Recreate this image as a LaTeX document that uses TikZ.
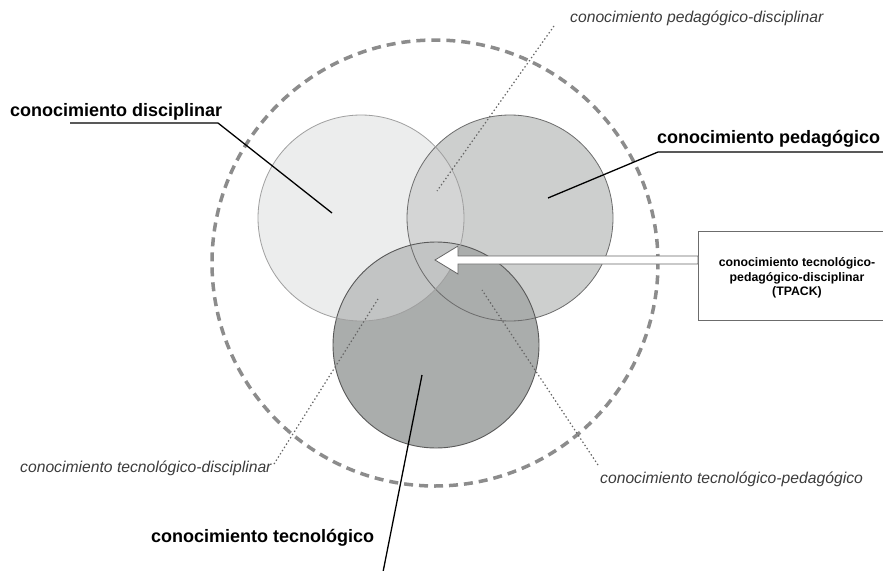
\documentclass[tikz,border=0pt]{standalone}
\usepackage{fontspec}
\setmainfont{Liberation Sans}
\usetikzlibrary{calc}

\definecolor{discfill}{RGB}{219,220,221}
\definecolor{pedfill}{RGB}{205,207,206}
\definecolor{tecfill}{RGB}{170,173,172}
\definecolor{ringgray}{RGB}{140,140,140}
\definecolor{italgray}{RGB}{60,60,60}

\begin{document}
\begin{tikzpicture}[x=1pt,y=-1pt,
  knowledge/.style={circle,minimum size=206pt,inner sep=0pt},
  biglabel/.style={font=\fontsize{18}{20}\selectfont\bfseries,inner sep=0pt},
  smalllabel/.style={font=\fontsize{15.7}{18}\selectfont\itshape,text=italgray,inner sep=0pt},
  leader/.style={line width=1.3pt},
  pointer/.style={black!60,line width=1.2pt,dash pattern=on 1.4pt off 2.4pt}]
\clip (0,0) rectangle (883,570);
\fill[white] (0,0) rectangle (883,570);

\node[circle,minimum size=446pt,draw=ringgray,line width=3.5pt,dash pattern=on 9pt off 6pt] (ring) at (435,263) {};

\node[knowledge,fill=pedfill] (ped) at (510,218) {};
\node[knowledge,fill=tecfill] (tec) at (436,345) {};
\node[knowledge,fill=discfill,fill opacity=0.5] (disc) at (361,218) {};
\draw[gray!85!black,line width=0.8pt] (ped) circle (103pt);
\draw[black!65,line width=0.9pt] (tec) circle (103pt);
\draw[gray!75,line width=0.8pt] (disc) circle (103pt);

\node[biglabel,anchor=base west] (discLbl) at (10,116) {conocimiento disciplinar};
\node[biglabel,anchor=base west] (pedLbl) at (657,143) {conocimiento pedagógico};
\node[biglabel,anchor=base west] (tecLbl) at (151,542) {conocimiento tecnológico};

\node[smalllabel,anchor=base west] (pdLbl) at (570,23) {conocimiento pedagógico-disciplinar};
\node[smalllabel,anchor=base west] (tdLbl) at (20,472) {conocimiento tecnológico-disciplinar};
\node[smalllabel,anchor=base west] (tpLbl) at (600,483) {conocimiento tecnológico-pedagógico};

\coordinate (discStart) at (70,123);
\coordinate (discBend) at (218,123);
\coordinate (discEnd) at (332,213);
\coordinate (pedStart) at (883,152);
\coordinate (pedBend) at (658,152);
\coordinate (pedEnd) at (548,198);
\coordinate (tecStart) at (383,572);
\coordinate (tecEnd) at (422,375);
\draw[leader] (discStart) -- (discBend) -- (discEnd);
\draw[leader] (pedStart) -- (pedBend) -- (pedEnd);
\draw[leader] (tecStart) -- (tecEnd);

\coordinate (pdStart) at (554,26);
\coordinate (pdEnd) at (437,191);
\coordinate (tdStart) at (274,464);
\coordinate (tdEnd) at (378,299);
\coordinate (tpStart) at (598,465);
\coordinate (tpEnd) at (482,290);
\draw[pointer] (pdStart) -- (pdEnd);
\draw[pointer] (tdStart) -- (tdEnd);
\draw[pointer] (tpStart) -- (tpEnd);

\node[draw=gray!85!black,line width=0.9pt,minimum width=200pt,minimum height=89pt,anchor=north west] (tpackBox) at (698,231) {};
\node[font=\fontsize{12.3}{14.5}\selectfont\bfseries,align=center] (tpack) at (797,278) {conocimiento tecnológico-\\pedagógico-disciplinar\\(TPACK)};

\coordinate (tip) at (435,260);
\filldraw[fill=white,draw=gray!80!black,line width=0.8pt,line join=miter]
  (tip) -- ++(23,-14) -- ++(0,10) -- (tpackBox.west |- 0,256) -- (tpackBox.west |- 0,264) -- (458,264) -- ++(0,10) -- cycle;
\end{tikzpicture}
\end{document}
